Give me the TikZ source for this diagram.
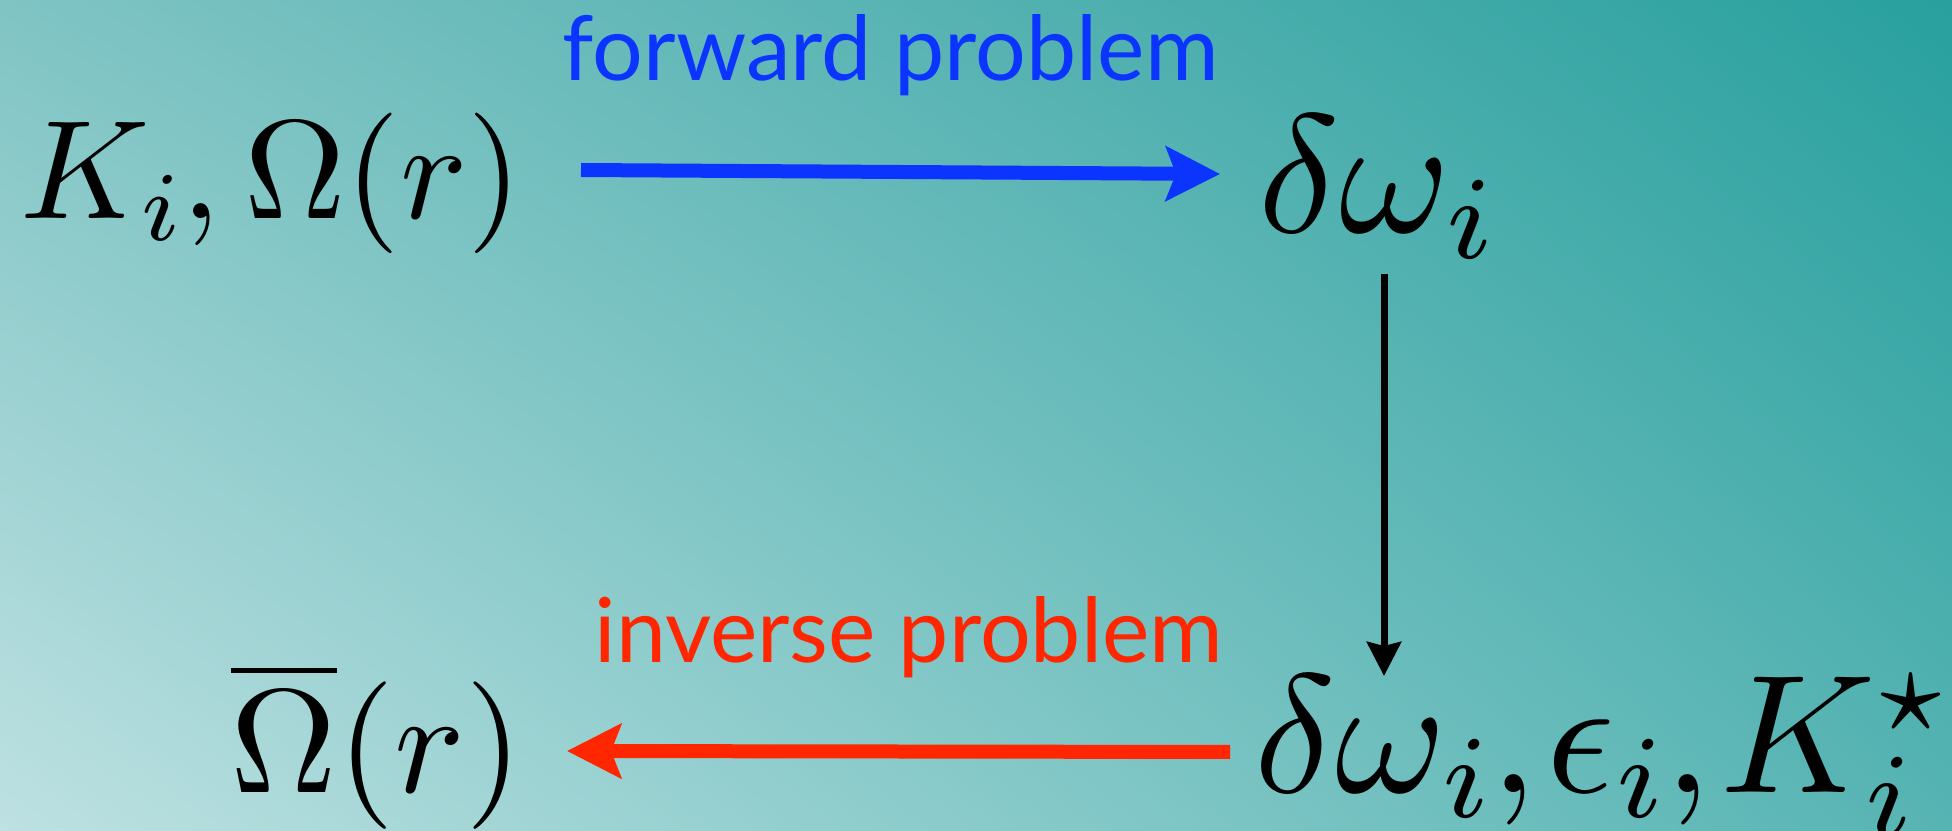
\documentclass[tikz,border=0pt]{standalone}
\usepackage[no-math]{fontspec}
\newfontfamily\labelfont{Lato}
\DeclareFontShape{OML}{cmm}{m}{it}{<-34>cmmi7<34->cmmi10}{}
\DeclareFontShape{OMS}{cmsy}{m}{n}{<-34>cmsy7<34->cmsy10}{}
\DeclareFontShape{OT1}{cmr}{m}{n}{<-34>cmr7<34->cmr10}{}
\DeclareFontShape{OMX}{cmex}{m}{n}{<->cmex10}{}
\usetikzlibrary{arrows.meta,shadings}
\definecolor{bgUL}{RGB}{128,196,196}
\definecolor{bgUR}{RGB}{40,160,158}
\definecolor{bgLL}{RGB}{190,225,226}
\definecolor{bgLR}{RGB}{86,180,179}
\definecolor{fwdblue}{RGB}{12,52,255}
\definecolor{invred}{RGB}{255,38,0}
\begin{document}
\begin{tikzpicture}[x=0.1mm,y=-0.1mm,
  mathA/.style={inner sep=0pt, anchor=base west, font=\fontsize{40}{48}\selectfont},
  mathB/.style={inner sep=0pt, anchor=base west, font=\fontsize{48}{56}\selectfont},
  mathC/.style={inner sep=0pt, anchor=base west, font=\fontsize{42}{50}\selectfont},
  lab/.style={inner sep=0pt, anchor=base west, font=\labelfont\fontsize{25.5}{30}\selectfont},
  fat/.style={line width=1.4mm, -{Stealth[length=5.4mm,width=5.4mm,inset=1mm]}},
  slim/.style={line width=0.7mm, -{Stealth[length=3.4mm,width=3.4mm,inset=0.4mm]}}]
\useasboundingbox (0,0) rectangle (1952,831);
\shade[upper left=bgUL, upper right=bgUR, lower left=bgLL, lower right=bgLR] (0,0) rectangle (1952,831);
\node[mathA] (tl) at (20,219) {$K_i, \Omega(r)$};
\node[mathB] (tr) at (1258,233) {$\delta\omega_i$};
\node[mathB] (br) at (1254,792) {$\delta\omega_i{,}\mkern1mu \epsilon_i{,}\mkern1mu K_i^\star$};
\node[mathC] (bl) at (230,792) {$\overline{\Omega}(r)$};
\node[lab, text=fwdblue] (fl) at (562,81) {forward problem};
\node[lab, text=invred] (il) at (594,662) {inverse problem};
\coordinate (fs) at (581,170);
\coordinate (fe) at (1220,174);
\coordinate (is) at (1230,752);
\coordinate (ie) at (567,751);
\coordinate (ds) at (1384,274);
\coordinate (de) at (1384,676);
\draw[fat, fwdblue] (fs) -- (fe);
\draw[fat, invred] (is) -- (ie);
\draw[slim, black] (ds) -- (de);
\end{tikzpicture}
\end{document}
